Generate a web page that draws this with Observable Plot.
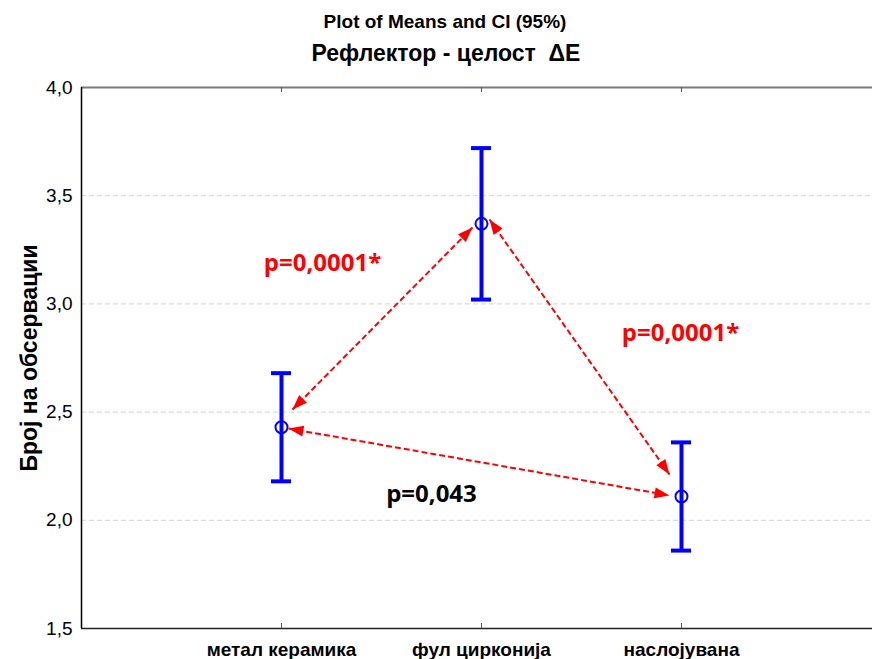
<!DOCTYPE html>
<html>
<head>
<meta charset="utf-8">
<script src="https://cdn.jsdelivr.net/npm/d3@7"></script>
<script src="https://cdn.jsdelivr.net/npm/@observablehq/plot@0.6"></script>
<style>
  html, body { margin: 0; padding: 0; background: #fff; }
  #chart svg { display: block; }
</style>
</head>
<body>
<div id="chart"></div>
<script>
// Group means with 95% confidence intervals
const groups = ["метал керамика", "фул цирконија", "наслојувана"];
const groupPos = [1, 2, 3];
const means = [2.43, 3.37, 2.11];
const ciLow = [2.18, 3.02, 1.86];
const ciHigh = [2.68, 3.72, 2.36];

// Y axis ticks
const yTicks = [1.5, 2.0, 2.5, 3.0, 3.5, 4.0];
const gridTicks = [2.0, 2.5, 3.0, 3.5];

// Pairwise comparison arrows (data units)
const arrowX1 = [1.055, 2.04, 1.035];
const arrowY1 = [2.512, 3.39, 2.424];
const arrowX2 = [1.955, 2.94, 2.94];
const arrowY2 = [3.353, 2.212, 2.115];

// p-value annotations
const pText = ["p=0,0001*", "p=0,0001*", "p=0,043"];
const pX = [1.205, 2.995, 1.75];
const pY = [3.187, 2.863, 2.119];
const pColor = ["#ff0000", "#ff0000", "#000000"];

const titleText = "Plot of Means and CI (95%)";
const subtitleText = "Рефлектор - целост  ΔE";
const yLabel = "Број на обсервации";

const points = groups.map((g, i) => ({g, x: groupPos[i], mean: means[i], lo: ciLow[i], hi: ciHigh[i]}));
const arrows = arrowX1.map((_, i) => ({x1: arrowX1[i], y1: arrowY1[i], x2: arrowX2[i], y2: arrowY2[i]}));
const notes = pText.map((t, i) => ({t, x: pX[i], y: pY[i], c: pColor[i]}));

const capHalf = 0.05;
const fmt = d => d.toFixed(1).replace(".", ",");

const svg = Plot.plot({
  width: 872,
  height: 659,
  marginTop: 87,
  marginBottom: 31,
  marginLeft: 81,
  marginRight: 0,
  style: {fontFamily: "'Liberation Sans', Arial, sans-serif", background: "#fff", color: "#000"},
  x: {domain: [0, 3.955], axis: null},
  y: {domain: [1.5, 4.0], axis: null},
  marks: [
    Plot.ruleY(gridTicks, {stroke: "#d4d4d4", strokeWidth: 1, strokeDasharray: "5,3"}),
    Plot.ruleY([4.0], {stroke: "#7a7a7a", strokeWidth: 2}),
    Plot.ruleY([1.5], {stroke: "#222", strokeWidth: 1.5}),
    Plot.ruleX([0], {stroke: "#000", strokeWidth: 1.5}),
    Plot.tickX(groupPos, {x: d => d, insetBottom: 536, stroke: "#555"}),
    Plot.tickX(groupPos, {x: d => d, insetTop: 536, stroke: "#555"}),
    Plot.axisY({ticks: yTicks, tickFormat: fmt, tickSize: 0, tickPadding: 9, fontSize: 19, fill: "#000"}),
    Plot.axisX({ticks: groupPos, tickFormat: d => groups[d - 1], tickSize: 0, tickPadding: 14, fontSize: 19, fontWeight: "bold", fill: "#000"}),
    Plot.text([yLabel], {frameAnchor: "left", textAnchor: "middle", text: d => d, rotate: -90, lineAnchor: "bottom", dx: -45, fontSize: 23, fontWeight: "bold", fill: "#000"}),
    Plot.text([titleText], {frameAnchor: "top", text: d => d, lineAnchor: "bottom", dy: -60, dx: -32, fontSize: 19, fontWeight: "bold", fill: "#000"}),
    Plot.text([subtitleText], {frameAnchor: "top", text: d => d, lineAnchor: "bottom", dy: -27, dx: -31, fontSize: 23, fontWeight: "bold", fill: "#000"}),
    // confidence intervals
    Plot.ruleX(points, {x: "x", y1: "lo", y2: "hi", stroke: "#0000ff", strokeWidth: 4}),
    Plot.ruleY(points, {y: "hi", x1: d => d.x - capHalf, x2: d => d.x + capHalf, stroke: "#0000ff", strokeWidth: 4}),
    Plot.ruleY(points, {y: "lo", x1: d => d.x - capHalf, x2: d => d.x + capHalf, stroke: "#0000ff", strokeWidth: 4}),
    Plot.dot(points, {x: "x", y: "mean", r: 6, stroke: "#0000ff", strokeWidth: 2, fill: "none"}),
    // comparison arrows
    Plot.link(arrows, {x1: "x1", y1: "y1", x2: "x2", y2: "y2", stroke: "#ff0000", strokeWidth: 2, strokeDasharray: "6,3", markerStart: "arrow", markerEnd: "arrow"}),
    Plot.text(notes, {x: "x", y: "y", text: "t", fill: "c", fontSize: 24, fontWeight: "bold", fontFamily: "'Open Sans', sans-serif"})
  ]
});

// Solid filled arrowheads for the dashed comparison lines
svg.querySelectorAll("marker").forEach(m => {
  m.setAttribute("viewBox", "-16 -7 18 14");
  m.setAttribute("markerWidth", 18);
  m.setAttribute("markerHeight", 14);
  m.setAttribute("markerUnits", "userSpaceOnUse");
  m.setAttribute("orient", "auto-start-reverse");
  m.setAttribute("fill", "#ff0000");
  m.setAttribute("stroke", "none");
  m.setAttribute("stroke-dasharray", "none");
  const p = m.querySelector("path");
  if (p) p.setAttribute("d", "M-15,-5.5L0,0L-15,5.5Z");
});

document.getElementById("chart").appendChild(svg);
</script>
</body>
</html>
